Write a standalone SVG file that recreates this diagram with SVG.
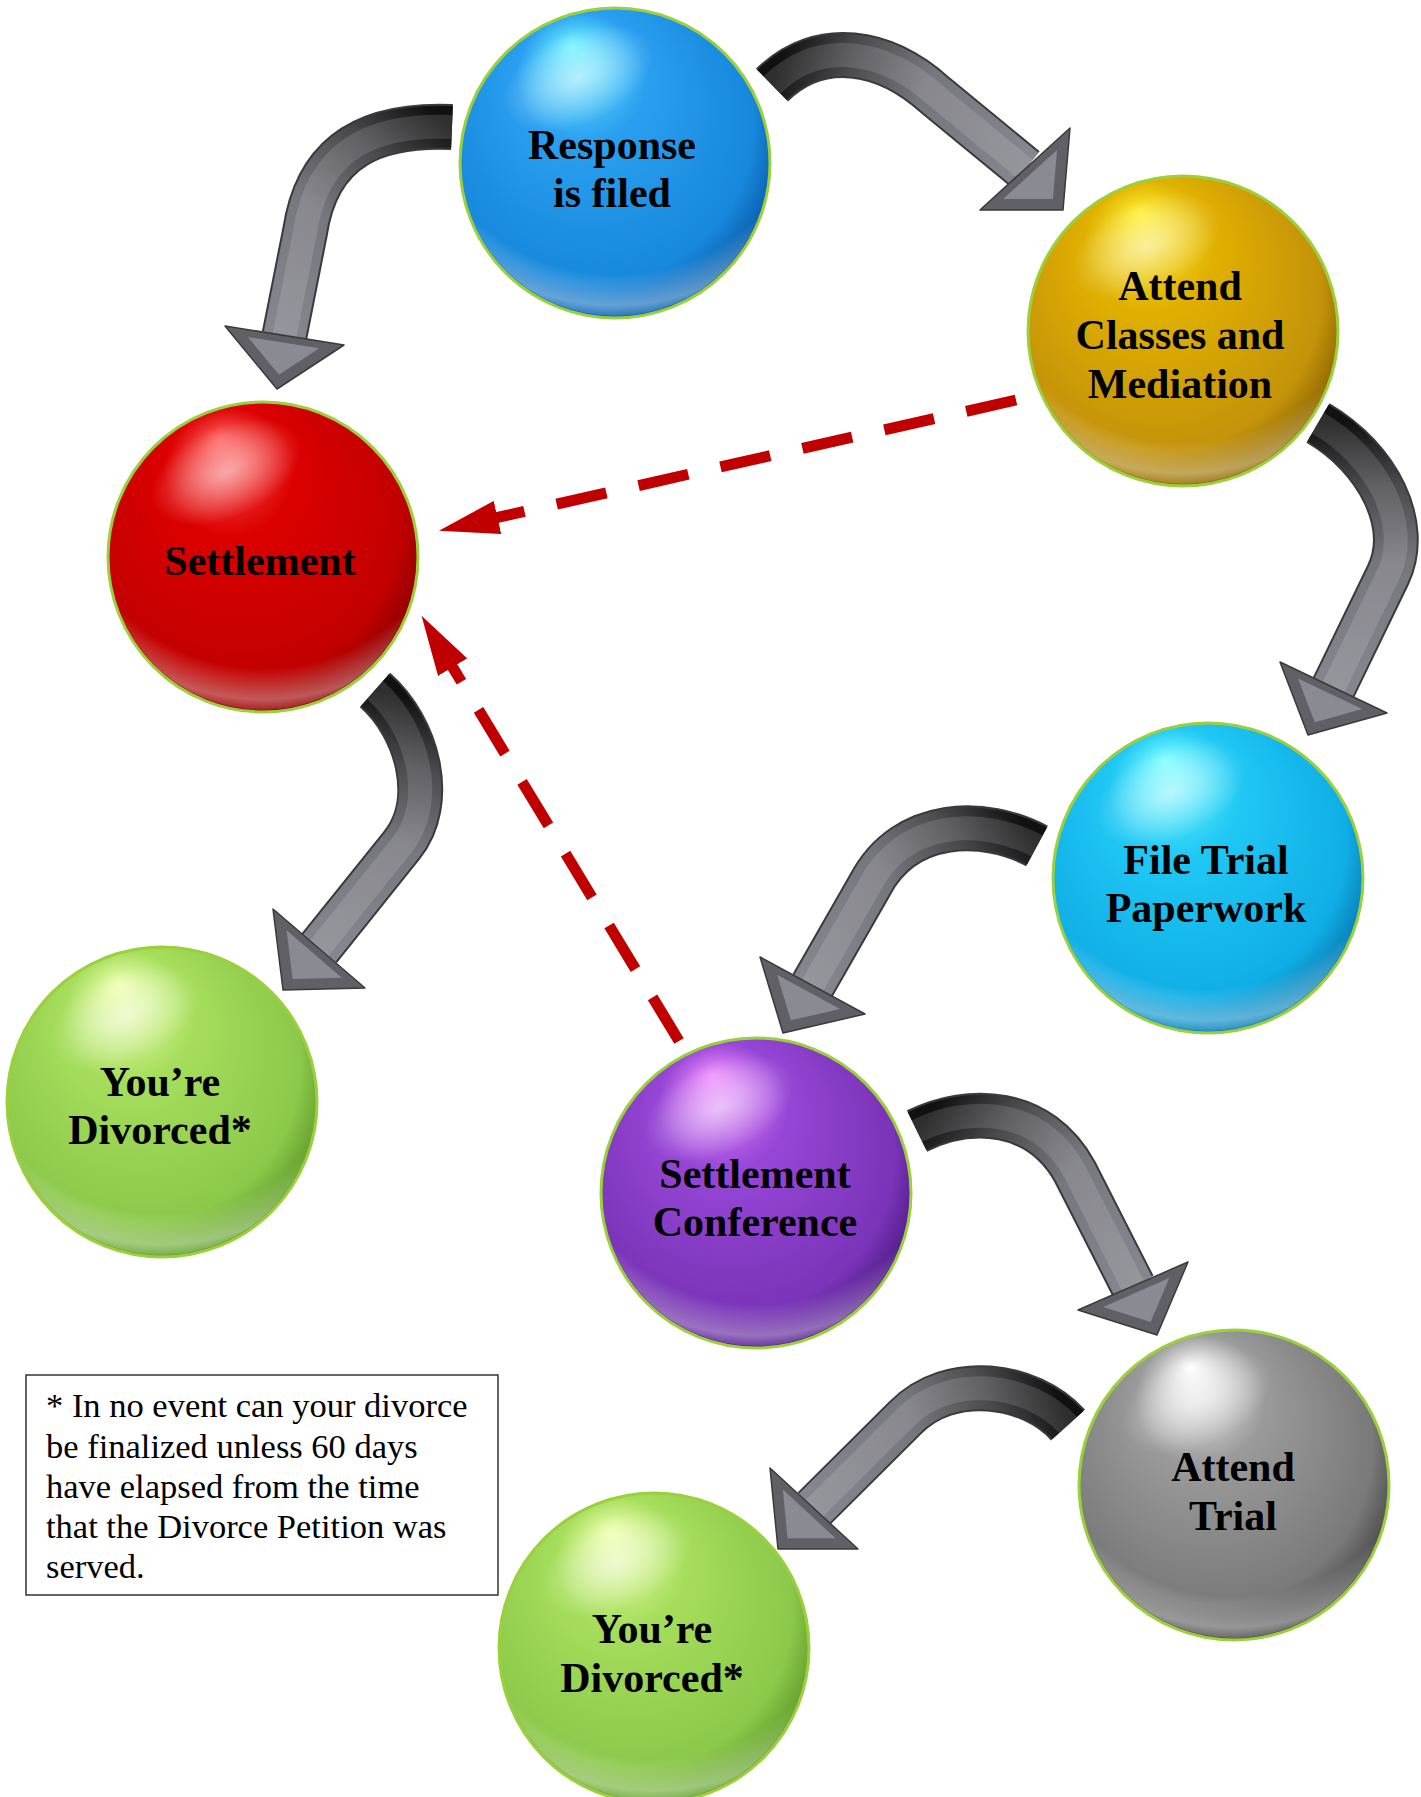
<svg xmlns="http://www.w3.org/2000/svg" width="1421" height="1797" viewBox="0 0 1421 1797">
<defs>
<style>
.lbl{font-family:"Liberation Serif","Times New Roman",serif;font-weight:bold;font-size:42px;fill:#000;text-anchor:middle}
.note{font-family:"Liberation Serif","Times New Roman",serif;font-size:34.5px;fill:#000}
.ring{stroke:#9ccf3c;stroke-width:3}
.rim{fill:url(#rim)}
.gloss{fill:url(#gloss)}
.edge{fill:none;stroke:#3a3a3e;stroke-width:46;stroke-linejoin:round}
.shaft{fill:none;stroke-width:42;stroke-linejoin:round}
.inner{fill:none;stroke:#fff;stroke-opacity:0.13;stroke-width:24;stroke-linejoin:round}
.head{fill:#606066;stroke:#3a3a3e;stroke-width:1.5;stroke-linejoin:round}
.headin{fill:#8a8a92}
.dash{fill:none;stroke:#c00000;stroke-width:11;stroke-dasharray:51 33}
.box{fill:#fff;stroke:#333;stroke-width:1.5}
</style>
<radialGradient id="rim" cx="0.5" cy="0.2" r="0.85">
<stop offset="0.78" stop-color="#fff" stop-opacity="0"/>
<stop offset="0.9" stop-color="#fff" stop-opacity="0.35"/>
<stop offset="0.97" stop-color="#fff" stop-opacity="0"/>
</radialGradient>
<radialGradient id="gloss" cx="0.5" cy="0.5" r="0.5">
<stop offset="0" stop-color="#fff" stop-opacity="0.55"/>
<stop offset="1" stop-color="#fff" stop-opacity="0"/>
</radialGradient>
<radialGradient id="sBlue" cx="0.45" cy="0.42" r="0.6" fx="0.36" fy="0.12">
<stop offset="0" stop-color="#70f4ff"/><stop offset="0.35" stop-color="#2a9ff0"/><stop offset="0.85" stop-color="#1788dc"/><stop offset="1" stop-color="#0a5aa8"/>
</radialGradient>
<radialGradient id="sGold" cx="0.45" cy="0.42" r="0.6" fx="0.36" fy="0.12">
<stop offset="0" stop-color="#fff030"/><stop offset="0.35" stop-color="#e0b000"/><stop offset="0.85" stop-color="#c4930a"/><stop offset="1" stop-color="#8a6400"/>
</radialGradient>
<radialGradient id="sRed" cx="0.45" cy="0.42" r="0.6" fx="0.36" fy="0.12">
<stop offset="0" stop-color="#ff6060"/><stop offset="0.35" stop-color="#dc0000"/><stop offset="0.85" stop-color="#c20000"/><stop offset="1" stop-color="#8a0000"/>
</radialGradient>
<radialGradient id="sCyan" cx="0.45" cy="0.42" r="0.6" fx="0.36" fy="0.12">
<stop offset="0" stop-color="#7affff"/><stop offset="0.35" stop-color="#20c8f4"/><stop offset="0.85" stop-color="#10aee6"/><stop offset="1" stop-color="#0878b0"/>
</radialGradient>
<radialGradient id="sGreen" cx="0.45" cy="0.42" r="0.6" fx="0.36" fy="0.12">
<stop offset="0" stop-color="#f0ffb0"/><stop offset="0.35" stop-color="#a6de5c"/><stop offset="0.85" stop-color="#8cc84a"/><stop offset="1" stop-color="#5e9a28"/>
</radialGradient>
<radialGradient id="sPurple" cx="0.45" cy="0.42" r="0.6" fx="0.36" fy="0.12">
<stop offset="0" stop-color="#f08cff"/><stop offset="0.35" stop-color="#9646d6"/><stop offset="0.85" stop-color="#7a34b8"/><stop offset="1" stop-color="#4e1a86"/>
</radialGradient>
<radialGradient id="sGray" cx="0.45" cy="0.42" r="0.6" fx="0.36" fy="0.12">
<stop offset="0" stop-color="#ffffff"/><stop offset="0.35" stop-color="#9a9a9a"/><stop offset="0.85" stop-color="#7a7a7a"/><stop offset="1" stop-color="#484848"/>
</radialGradient>
<linearGradient id="arr">
<stop offset="0" stop-color="#111"/><stop offset="0.25" stop-color="#4a4a4e"/><stop offset="0.55" stop-color="#76767d"/><stop offset="1" stop-color="#86868e"/>
</linearGradient>
<linearGradient id="a1" href="#arr" gradientUnits="userSpaceOnUse" x1="452" y1="127" x2="284" y2="335"/>
<linearGradient id="a2" href="#arr" gradientUnits="userSpaceOnUse" x1="772" y1="85" x2="1025" y2="169"/>
<linearGradient id="a3" href="#arr" gradientUnits="userSpaceOnUse" x1="1318" y1="423" x2="1333" y2="687"/>
<linearGradient id="a4" href="#arr" gradientUnits="userSpaceOnUse" x1="1037" y1="846" x2="812" y2="985"/>
<linearGradient id="a5" href="#arr" gradientUnits="userSpaceOnUse" x1="375" y1="690" x2="319" y2="948"/>
<linearGradient id="a6" href="#arr" gradientUnits="userSpaceOnUse" x1="917" y1="1131" x2="1133" y2="1286"/>
<linearGradient id="a7" href="#arr" gradientUnits="userSpaceOnUse" x1="1068" y1="1425" x2="814" y2="1508"/>
<marker id="redHead" viewBox="0 0 60 34" refX="1" refY="17" markerWidth="60" markerHeight="34" markerUnits="userSpaceOnUse" orient="auto">
<path d="M0,0 L60,17 L0,34 z" fill="#c00000"/>
</marker>
</defs>
<rect width="1421" height="1797" fill="#fff"/>

<g id="connectors">
<g id="c1">
<path class="edge" d="M452,127 C378,124 318,145 305,232 L284.5,335.5"/>
<path class="shaft" stroke="url(#a1)" d="M452,127 C378,124 318,145 305,232 L284.5,335.5"/>
<path class="inner" d="M452,127 C378,124 318,145 305,232 L284.5,335.5"/>
<polygon class="head" points="225,326 277,389 344,345"/>
<polygon class="headin" points="225,326 277,389 344,345" transform="translate(282 353.3) scale(0.6) translate(-282 -353.3)"/>
</g>
<g id="c2">
<path class="edge" d="M772,85 C820,38 885,50 935,95 L1025,169"/>
<path class="shaft" stroke="url(#a2)" d="M772,85 C820,38 885,50 935,95 L1025,169"/>
<path class="inner" d="M772,85 C820,38 885,50 935,95 L1025,169"/>
<polygon class="head" points="980,210 1063,210 1070,128"/>
<polygon class="headin" points="980,210 1063,210 1070,128" transform="translate(1037.7 182.7) scale(0.6) translate(-1037.7 -182.7)"/>
</g>
<g id="c3">
<path class="edge" d="M1318,423 C1378,458 1412,525 1388,575 L1333.5,687.5"/>
<path class="shaft" stroke="url(#a3)" d="M1318,423 C1378,458 1412,525 1388,575 L1333.5,687.5"/>
<path class="inner" d="M1318,423 C1378,458 1412,525 1388,575 L1333.5,687.5"/>
<polygon class="head" points="1280,662 1308,735 1387,713"/>
<polygon class="headin" points="1280,662 1308,735 1387,713" transform="translate(1325 703.3) scale(0.6) translate(-1325 -703.3)"/>
</g>
<g id="c4">
<path class="edge" d="M1037,846 C985,818 905,818 870,885 L812.5,985.5"/>
<path class="shaft" stroke="url(#a4)" d="M1037,846 C985,818 905,818 870,885 L812.5,985.5"/>
<path class="inner" d="M1037,846 C985,818 905,818 870,885 L812.5,985.5"/>
<polygon class="head" points="760,957 783,1033 865,1014"/>
<polygon class="headin" points="760,957 783,1033 865,1014" transform="translate(802.7 1001.3) scale(0.6) translate(-802.7 -1001.3)"/>
</g>
<g id="c5">
<path class="edge" d="M375,690 C418,728 437,801 402,845 L319,948.5"/>
<path class="shaft" stroke="url(#a5)" d="M375,690 C418,728 437,801 402,845 L319,948.5"/>
<path class="inner" d="M375,690 C418,728 437,801 402,845 L319,948.5"/>
<polygon class="head" points="273,909 283,990 365,988"/>
<polygon class="headin" points="273,909 283,990 365,988" transform="translate(307 962.3) scale(0.6) translate(-307 -962.3)"/>
</g>
<g id="c6">
<path class="edge" d="M917,1131 C970,1105 1040,1108 1075,1172 L1133,1286"/>
<path class="shaft" stroke="url(#a6)" d="M917,1131 C970,1105 1040,1108 1075,1172 L1133,1286"/>
<path class="inner" d="M917,1131 C970,1105 1040,1108 1075,1172 L1133,1286"/>
<polygon class="head" points="1078,1310 1157,1335 1188,1262"/>
<polygon class="headin" points="1078,1310 1157,1335 1188,1262" transform="translate(1141 1302.3) scale(0.6) translate(-1141 -1302.3)"/>
</g>
<g id="c7">
<path class="edge" d="M1068,1425 C1030,1383 950,1372 905,1418 L814,1508.5"/>
<path class="shaft" stroke="url(#a7)" d="M1068,1425 C1030,1383 950,1372 905,1418 L814,1508.5"/>
<path class="inner" d="M1068,1425 C1030,1383 950,1372 905,1418 L814,1508.5"/>
<polygon class="head" points="770,1468 778,1549 858,1549"/>
<polygon class="headin" points="770,1468 778,1549 858,1549" transform="translate(802 1522) scale(0.6) translate(-802 -1522)"/>
</g>
<path id="d1" class="dash" d="M1016,400 L496.5,517.7" marker-end="url(#redHead)"/>
<path id="d2" class="dash" d="M679,1041 L452.1,666.3" marker-end="url(#redHead)"/>
</g>

<g id="n-response">
<circle cx="615" cy="163" r="155" fill="url(#sBlue)" class="ring"/>
<circle cx="615" cy="163" r="153" class="rim"/>
<ellipse cx="578" cy="78" rx="80" ry="46" class="gloss" transform="rotate(-25 578 78)"/>
<text class="lbl" x="612" y="159">Response</text>
<text class="lbl" x="612" y="207">is filed</text>
</g>
<g id="n-classes">
<circle cx="1183" cy="331" r="155" fill="url(#sGold)" class="ring"/>
<circle cx="1183" cy="331" r="153" class="rim"/>
<ellipse cx="1146" cy="246" rx="80" ry="46" class="gloss" transform="rotate(-25 1146 246)"/>
<text class="lbl" x="1180" y="300">Attend</text>
<text class="lbl" x="1180" y="349">Classes and</text>
<text class="lbl" x="1180" y="398">Mediation</text>
</g>
<g id="n-settlement">
<circle cx="263" cy="557" r="155" fill="url(#sRed)" class="ring"/>
<circle cx="263" cy="557" r="153" class="rim"/>
<ellipse cx="226" cy="472" rx="80" ry="46" class="gloss" transform="rotate(-25 226 472)"/>
<text class="lbl" x="260" y="575">Settlement</text>
</g>
<g id="n-filetrial">
<circle cx="1208" cy="878" r="155" fill="url(#sCyan)" class="ring"/>
<circle cx="1208" cy="878" r="153" class="rim"/>
<ellipse cx="1171" cy="793" rx="80" ry="46" class="gloss" transform="rotate(-25 1171 793)"/>
<text class="lbl" x="1206" y="874">File Trial</text>
<text class="lbl" x="1206" y="922">Paperwork</text>
</g>
<g id="n-divorced1">
<circle cx="162" cy="1102" r="155" fill="url(#sGreen)" class="ring"/>
<circle cx="162" cy="1102" r="153" class="rim"/>
<ellipse cx="125" cy="1017" rx="80" ry="46" class="gloss" transform="rotate(-25 125 1017)"/>
<text class="lbl" x="160" y="1096">You’re</text>
<text class="lbl" x="160" y="1144">Divorced*</text>
</g>
<g id="n-conference">
<circle cx="756" cy="1193" r="155" fill="url(#sPurple)" class="ring"/>
<circle cx="756" cy="1193" r="153" class="rim"/>
<ellipse cx="719" cy="1108" rx="80" ry="46" class="gloss" transform="rotate(-25 719 1108)"/>
<text class="lbl" x="755" y="1188">Settlement</text>
<text class="lbl" x="755" y="1236">Conference</text>
</g>
<g id="n-trial">
<circle cx="1234" cy="1485" r="155" fill="url(#sGray)" class="ring"/>
<circle cx="1234" cy="1485" r="153" class="rim"/>
<ellipse cx="1197" cy="1400" rx="80" ry="46" class="gloss" transform="rotate(-25 1197 1400)"/>
<text class="lbl" x="1233" y="1481">Attend</text>
<text class="lbl" x="1233" y="1530">Trial</text>
</g>
<g id="n-divorced2">
<circle cx="654" cy="1648" r="155" fill="url(#sGreen)" class="ring"/>
<circle cx="654" cy="1648" r="153" class="rim"/>
<ellipse cx="617" cy="1563" rx="80" ry="46" class="gloss" transform="rotate(-25 617 1563)"/>
<text class="lbl" x="652" y="1643">You’re</text>
<text class="lbl" x="652" y="1692">Divorced*</text>
</g>
<g id="n-note">
<rect class="box" x="26" y="1375" width="472" height="220"/>
<text class="note" x="46" y="1417">* In no event can your divorce</text>
<text class="note" x="46" y="1458">be finalized unless 60 days</text>
<text class="note" x="46" y="1498">have elapsed from the time</text>
<text class="note" x="46" y="1538">that the Divorce Petition was</text>
<text class="note" x="46" y="1578">served.</text>
</g>
</svg>
